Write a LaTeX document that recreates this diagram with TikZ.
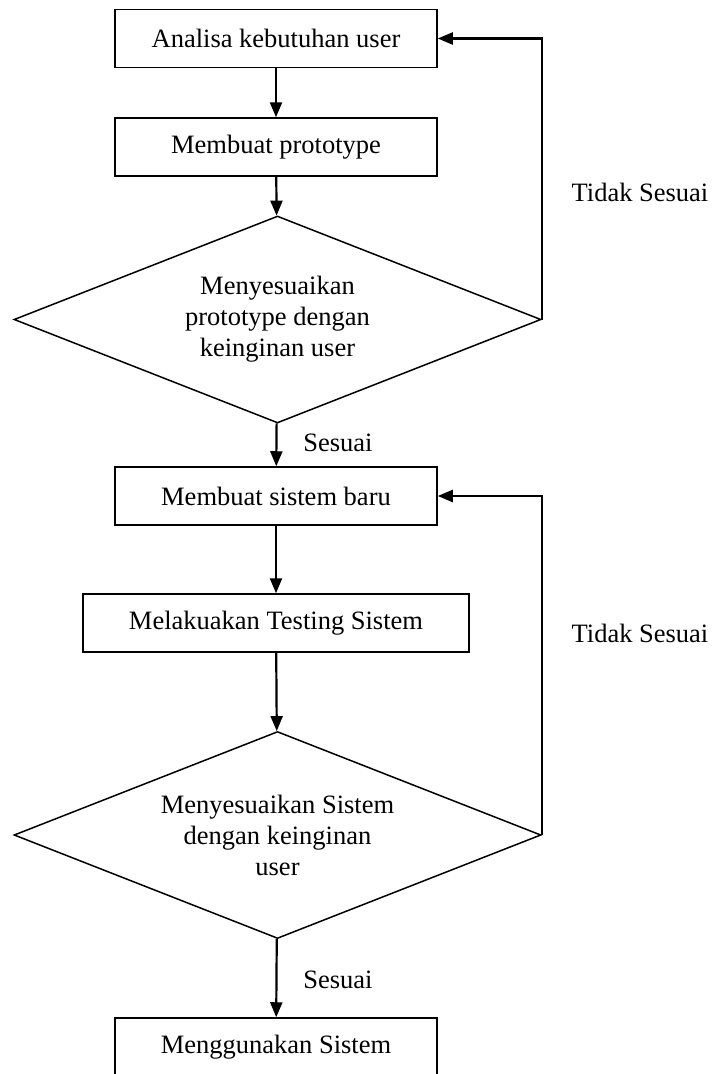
\documentclass[tikz,border=0pt]{standalone}
\usepackage{fontspec}
\setmainfont{Liberation Serif}
\usetikzlibrary{arrows.meta,shapes.geometric}

\begin{document}
\begin{tikzpicture}[x=1pt,y=-1pt,font=\fontsize{26.5}{31}\selectfont]
\tikzstyle{decision} = [diamond, draw, line width=1.5pt, align=center,
inner sep=0pt, shape aspect=2.55, minimum width=527pt, minimum height=207pt]

\tikzstyle{block} = [rectangle, draw, line width=1.5pt,
minimum width=322pt, minimum height=58pt, inner sep=0pt]
\tikzstyle{block_wide} = [block, minimum width=386pt]
\tikzstyle{line} = [draw, line width=2.2pt, -{Triangle[width=12pt,length=15pt]}];
\tikzstyle{note} = [inner sep=0pt];
\clip (0,0) rectangle (714,1074);
% prototype
\node [block] (analisa) at (276,38.5) {Analisa kebutuhan user};
\node [block] (prototype) at (276,147) {Membuat prototype};
\node [decision] (cekproto) at (277.5,319.5) {Menyesuaikan\\prototype dengan\\keinginan user};
% sistem
\node [block] (sistem) at (276,496) {Membuat sistem baru};
\node [block_wide] (testing) at (276,623) {Melakuakan Testing Sistem};
\node [decision] (ceksistem) at (277.5,835) {Menyesuaikan Sistem\\dengan keinginan\\user};
\node [block] (pakai) at (276,1047) {Menggunakan Sistem};
% labels
\node [note] (tidak1) at (640,192) {Tidak Sesuai};
\node [note] (sesuai1) at (338,443) {Sesuai};
\node [note] (tidak2) at (640,633) {Tidak Sesuai};
\node [note] (sesuai2) at (338,980) {Sesuai};

\path [line] (analisa) -- (prototype);
\path [line] (prototype) -- (cekproto);
\path [line] (cekproto.east) |- (analisa.east);
\path [line] (cekproto) -- (sistem);
\path [line] (sistem) -- (testing);
\path [line] (testing) -- (ceksistem);
\path [line] (ceksistem.east) |- (sistem.east);
\path [line] (ceksistem) -- (pakai);

\end{tikzpicture}
\end{document}
